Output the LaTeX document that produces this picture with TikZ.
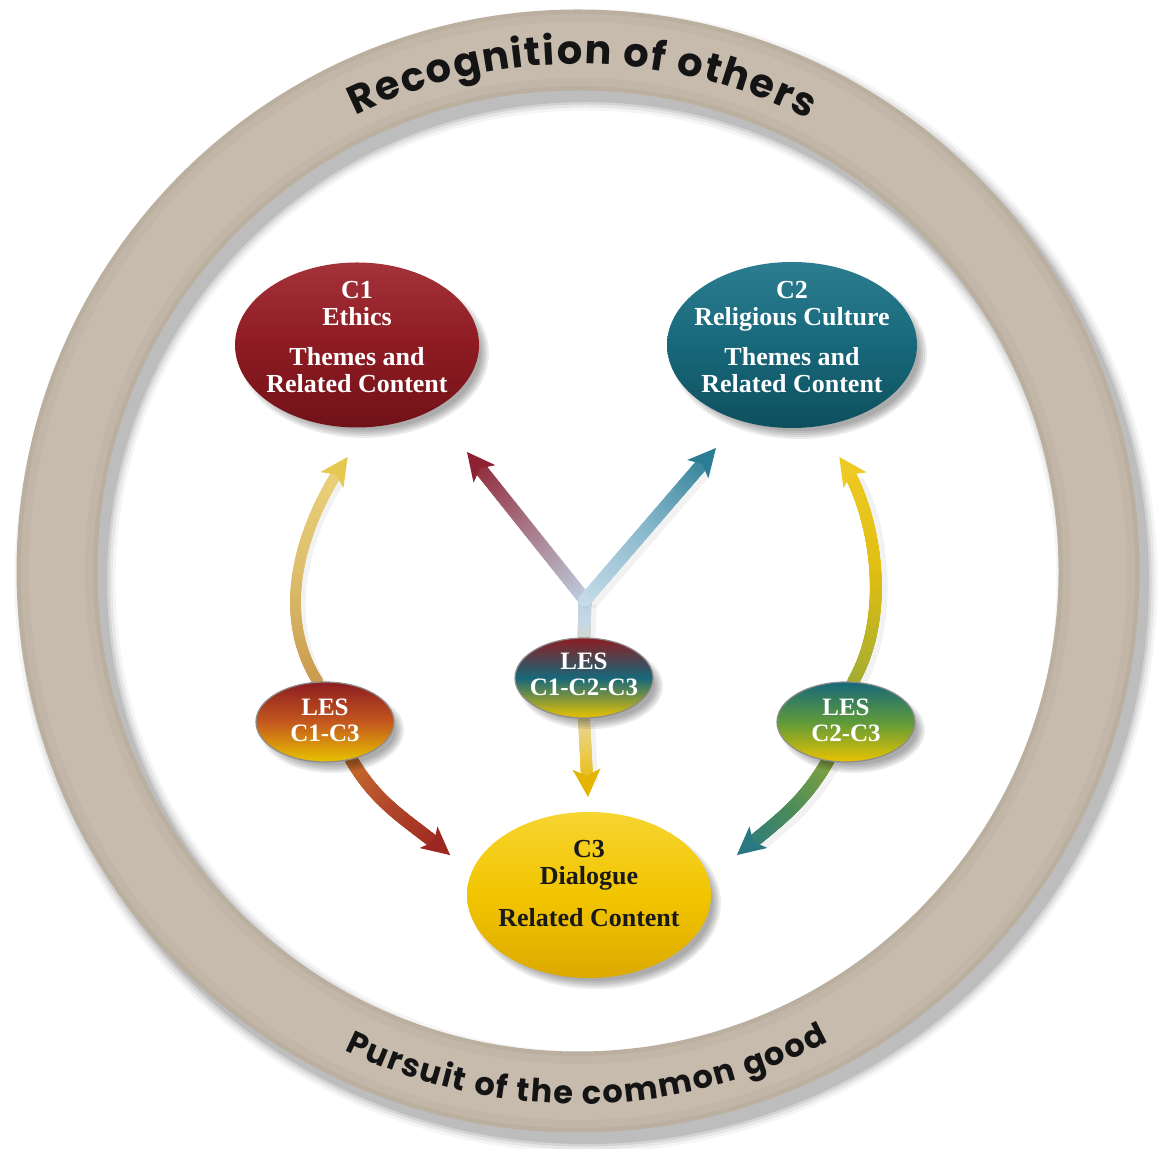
\documentclass[tikz,border=0pt]{standalone}
\usepackage{fontspec}
\setmainfont{Liberation Serif}
\newfontfamily\ringfont{Poppins}
\usetikzlibrary{shapes.geometric,decorations.markings,decorations.text}
\pgfdeclarelayer{ringlayer}
\pgfdeclarelayer{arrowlayer}
\pgfdeclarelayer{shadowlayer}
\pgfsetlayers{ringlayer,arrowlayer,shadowlayer,main}

\definecolor{ringbase}{HTML}{BBAFA0}
\definecolor{ringmid}{HTML}{C1B6A7}
\definecolor{ringtop}{HTML}{C6BBAD}
\definecolor{cred}{HTML}{8E1B22}
\definecolor{credT}{HTML}{A4323A}
\definecolor{credB}{HTML}{701218}
\definecolor{cteal}{HTML}{17687A}
\definecolor{ctealT}{HTML}{2C7D8F}
\definecolor{ctealB}{HTML}{0E4F5E}
\definecolor{cyel}{HTML}{F2C500}
\definecolor{cyelT}{HTML}{F7D530}
\definecolor{cyelB}{HTML}{DCA900}
\definecolor{lesred}{HTML}{8C1D22}
\definecolor{lesorange}{HTML}{C4581E}
\definecolor{lesyellow}{HTML}{E9C300}
\definecolor{lesteal}{HTML}{17687A}
\definecolor{lesgreen}{HTML}{5F9A3A}
\definecolor{ylA}{HTML}{BFD3E3}
\definecolor{ylB}{HTML}{A97A8A}
\definecolor{ylC}{HTML}{8E2233}
\definecolor{yrA}{HTML}{C8DCE8}
\definecolor{yrB}{HTML}{88B8CC}
\definecolor{yrC}{HTML}{2B7D93}
\definecolor{stA}{HTML}{D8D6C8}
\definecolor{stB}{HTML}{C8D8E4}
\definecolor{dnA}{HTML}{E2D8A8}
\definecolor{dnB}{HTML}{EBCB50}
\definecolor{dnC}{HTML}{E4B400}
\definecolor{luA}{HTML}{C9994E}
\definecolor{luB}{HTML}{DDBF6C}
\definecolor{luC}{HTML}{EBD37C}
\definecolor{luH}{HTML}{E6C850}
\definecolor{llA}{HTML}{C8702C}
\definecolor{llB}{HTML}{B0452A}
\definecolor{llC}{HTML}{9C2620}
\definecolor{ruA}{HTML}{A2AC34}
\definecolor{ruB}{HTML}{E0BE12}
\definecolor{ruC}{HTML}{EFCA24}
\definecolor{rlA}{HTML}{86A23E}
\definecolor{rlB}{HTML}{4C8C5A}
\definecolor{rlC}{HTML}{2A7882}

\newcommand\myGradDot[4]{%
  \pgfmathsetmacro\gpc{(\pgfkeysvalueof{/pgf/decoration/mark info/distance from start}/\pgfdecoratedpathlength)*100}%
  \ifdim\gpc pt<50pt
    \pgfmathsetmacro\gpd{2*\gpc}\fill[#2!\gpd!#1] (0,0) circle[radius=#4];%
  \else
    \pgfmathsetmacro\gpd{min(100,2*\gpc-100)}\fill[#3!\gpd!#2] (0,0) circle[radius=#4];%
  \fi}

\newcommand\mySoftShadow[3]{%
  \foreach \d in {-5,-3,-1,1,3}{%
    \fill[black, opacity=0.075] ([shift={(7,-8)}]#1.center) ellipse[x radius={#2+\d}, y radius={#3+\d}];}}

\tikzset{
  bigell/.style={ellipse, inner sep=0pt},
  lesell/.style={ellipse, inner sep=0pt, minimum width=138, minimum height=80,
    draw=black!45, line width=1.2pt},
  lbl/.style={align=center, font=\bfseries\fontsize{26}{27}\selectfont, inner sep=0pt},
  leslbl/.style={align=center, font=\bfseries\fontsize{25}{26}\selectfont, text=white, inner sep=0pt},
  gradline/.style n args={4}{
    preaction={draw=black!40, opacity=0.12, line width={2*#4}, transform canvas={xshift=5pt,yshift=-5pt}},
    postaction={decorate},
    decoration={markings,
      mark=between positions 0 and 1 step 1pt with {\myGradDot{#1}{#2}{#3}{#4}}}},
  gradarrow/.style n args={5}{
    preaction={draw=black!40, opacity=0.12, line width={2*#4}, shorten >=20pt, transform canvas={xshift=5pt,yshift=-5pt}},
    postaction={decorate},
    decoration={markings,
      mark=between positions 0 and -18pt step 1pt with {\myGradDot{#1}{#2}{#3}{#4}},
      mark=at position -4pt with {\fill[#5] (-24,-14) -- (4,0) -- (-24,14) -- (-17,0) -- cycle;}}},
}

\begin{document}
\begin{tikzpicture}[x=1pt,y=1pt]
\useasboundingbox (0,0) rectangle (1161,1148);
\coordinate (O) at (578,577);

% ---------- ring ----------
\begin{pgfonlayer}{ringlayer}
\fill[white] (0,0) rectangle (1161,1148);
\foreach \w/\o in {101/0.04,95/0.06,89/0.08,84/0.10}{
  \draw[black, opacity=\o, line width=\w] ([shift={(8,-10)}]O) circle[radius=521];
}
\draw[ringbase, line width=81] (O) circle[radius=521];
\draw[ringmid, line width=72] (O) circle[radius=521];
\draw[ringtop, line width=56] (O) circle[radius=521];
\path[decorate, decoration={text along path,
   text={|\ringfont\bfseries\fontsize{40}{40}\selectfont|Recognition of others},
   text align={fit to path}, text color=black!92}]
   ([shift={(116:507)}]O) arc[start angle=116, end angle=63, radius=507];
\path[decorate, decoration={text along path,
   text={|\ringfont\bfseries\fontsize{32}{32}\selectfont|Pursuit of the common good},
   text align={fit to path}, text color=black!92}]
   ([shift={(244:533)}]O) arc[start angle=244, end angle=298, radius=533];
\end{pgfonlayer}

% ---------- nodes ----------
\node[bigell, minimum width=244, minimum height=165, top color=credT, bottom color=credB, middle color=cred] (c1) at (357,803) {};
\node[bigell, minimum width=250, minimum height=166, top color=ctealT, bottom color=ctealB, middle color=cteal] (c2) at (792,803) {};
\node[bigell, minimum width=244, minimum height=166, top color=cyelT, bottom color=cyelB, middle color=cyel] (c3) at (589,253) {};

\node[lesell, top color=lesred, bottom color=lesyellow, middle color=lesteal] (les123) at (584,470) {};
\node[lesell, top color=lesred, bottom color=lesyellow, middle color=lesorange] (les13) at (325,426) {};
\node[lesell, top color=lesteal, bottom color=lesyellow, middle color=lesgreen] (les23) at (846,426) {};

\node[lbl, text=white] (c1t) at (357,811) {C1\\Ethics\\[13pt]Themes and\\Related Content};
\node[lbl, text=white] (c2t) at (792,811) {C2\\Religious Culture\\[13pt]Themes and\\Related Content};
\node[lbl, text=black!90] (c3t) at (589,264) {C3\\Dialogue\\[15pt]Related Content};
\node[leslbl] (les123t) at (584,474) {LES\\C1-C2-C3};
\node[leslbl] (les13t) at (325,428) {LES\\C1-C3};
\node[leslbl] (les23t) at (846,428) {LES\\C2-C3};

\begin{pgfonlayer}{shadowlayer}
\mySoftShadow{c1}{122}{82}
\mySoftShadow{c2}{125}{83}
\mySoftShadow{c3}{122}{83}
\mySoftShadow{les123}{69}{40}
\mySoftShadow{les13}{69}{40}
\mySoftShadow{les23}{69}{40}
\end{pgfonlayer}

% ---------- connectors ----------
\coordinate (B) at (585,548);
\coordinate (tl) at (467,696);
\coordinate (tr) at (716,700);
\coordinate (td) at (588,351);
\coordinate (tlu) at (347,690);
\coordinate (tll) at (450,293);
\coordinate (tru) at (840,690);
\coordinate (trl) at (737,293);

\begin{pgfonlayer}{arrowlayer}
\path[gradline={stA}{stB}{ylA}{6.5}] (les123.north) -- (B);
\path[gradarrow={ylA}{ylB}{ylC}{6.5}{ylC}] (B) -- (tl);
\path[gradarrow={yrA}{yrB}{yrC}{6.5}{yrC}] (B) -- (tr);
\path[gradarrow={dnA}{dnB}{dnC}{6}{dnC}] (les123.south) -- (td);
\path[gradarrow={luA}{luB}{luC}{5.5}{luH}] (les13.100) .. controls (268,545) and (312,640) .. (tlu);
\path[gradarrow={llA}{llB}{llC}{6.5}{llC}] (les13.-55) to[out=-60, in=140] (tll);
\path[gradarrow={ruA}{ruB}{ruC}{6}{ruC}] (les23.80) .. controls (895,540) and (872,645) .. (tru);
\path[gradarrow={rlA}{rlB}{rlC}{6.5}{rlC}] (les23.-115) to[out=-120, in=40] (trl);
\end{pgfonlayer}
\end{tikzpicture}
\end{document}
